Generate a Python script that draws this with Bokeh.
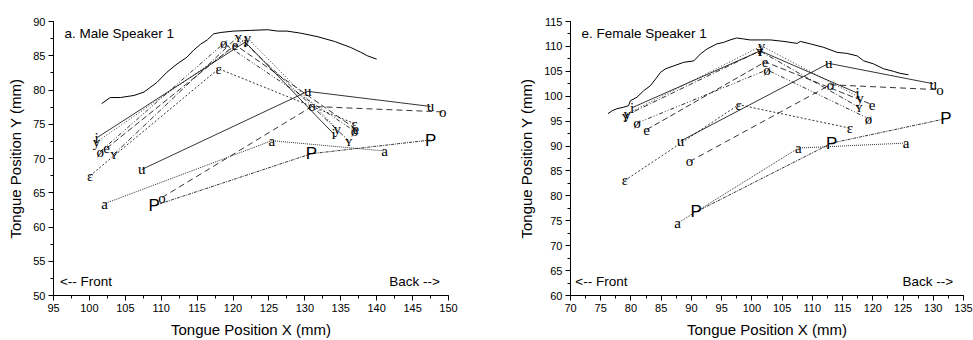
from bokeh.plotting import figure
from bokeh.layouts import row
from bokeh.models import Range1d, SingleIntervalTicker, Label
from bokeh.core.properties import value
from bokeh.embed import file_html
from bokeh.resources import INLINE

# ---------------- data ----------------
vowels = ["i", "y", "ʏ", "e", "ø", "ɛ", "u", "o", "a", "P"]
dashes = ["solid", "1 2", "5 2 1 2", "6 3", "4 2 1 2 1 2", "2 2", "solid", "6 4", "1 1", "3 1 1 1"]

# Male speaker 1: three points per vowel (start, middle, end)
male_x_start = [101.0, 101.0, 103.4, 102.4, 101.5, 100.1, 107.3, 110.1, 102.1, 109.0]
male_y_start = [73.0, 72.4, 70.6, 71.5, 71.0, 67.5, 68.4, 64.3, 63.4, 63.1]
male_x_mid = [121.7, 122.0, 120.7, 120.3, 118.7, 118.0, 130.4, 131.0, 125.4, 130.9]
male_y_mid = [87.0, 87.6, 87.8, 86.6, 86.8, 83.1, 79.8, 77.6, 72.6, 70.7]
male_x_end = [134.0, 134.5, 136.1, 137.1, 136.9, 136.9, 147.5, 149.2, 141.1, 147.5]
male_y_end = [73.6, 74.3, 72.6, 74.3, 74.0, 75.1, 77.6, 76.8, 71.1, 72.7]

male_palate_x = [101.7, 102.9, 104.3, 106.2, 107.6, 109.4, 110.8, 112.2, 113.6, 114.5, 115.5,
                 116.4, 117.3, 118.3, 120.1, 122.4, 124.8, 126.2, 127.5, 129.4, 131.7, 134.1,
                 136.4, 137.8, 138.7, 140.0]
male_palate_y = [78.0, 78.9, 78.9, 79.2, 79.7, 81.1, 82.6, 83.8, 84.8, 85.8, 86.7,
                 87.3, 88.2, 88.4, 88.6, 88.7, 88.8, 88.6, 88.6, 88.3, 87.8, 87.1,
                 86.2, 85.5, 85.0, 84.5]

# Female speaker 1
female_x_start = [80.2, 79.4, 79.1, 82.6, 81.0, 79.0, 88.2, 89.7, 87.7, 90.8]
female_y_start = [97.7, 96.5, 96.1, 93.3, 94.6, 83.1, 91.0, 86.9, 74.5, 76.8]
female_x_mid = [101.4, 101.6, 101.3, 102.2, 102.5, 97.8, 112.7, 113.0, 107.7, 113.2]
female_y_mid = [109.1, 110.1, 109.1, 106.9, 105.3, 98.3, 106.6, 102.3, 89.6, 90.6]
female_x_end = [117.5, 117.9, 117.7, 119.9, 119.3, 116.2, 130.0, 131.1, 125.5, 132.1]
female_y_end = [100.6, 99.7, 97.8, 98.3, 95.5, 93.6, 102.5, 101.3, 90.6, 95.5]

female_palate_x = [76.2, 76.9, 77.7, 78.8, 79.6, 79.9, 81.0, 82.1, 83.2, 84.1, 84.9, 85.7,
                   87.1, 88.7, 90.4, 91.5, 92.6, 94.2, 95.3, 96.4, 97.5, 98.6, 99.7, 101.4,
                   103.1, 105.3, 107.5, 108.0, 109.7, 111.9, 114.1, 115.7, 117.4, 118.5,
                   120.1, 121.8, 123.4, 124.5, 125.9]
female_palate_y = [96.5, 97.1, 97.5, 97.8, 98.1, 99.1, 99.8, 101.1, 102.1, 103.5, 104.8, 105.5,
                   106.1, 106.8, 107.1, 108.5, 109.5, 110.5, 110.8, 111.3, 111.7, 111.5, 111.3, 111.3,
                   111.3, 111.0, 110.6, 111.0, 110.5, 109.8, 108.8, 108.6, 108.1, 107.1,
                   106.5, 105.5, 105.0, 104.6, 104.3]

SANS = "Liberation Sans"
SERIF = "Liberation Serif"


def make_panel(title, xr, yr, xs, ys, xm, ym, xe, ye, px, py, front_xy, back_xy,
               width, border_left, border_right):
    p = figure(width=width, height=340, output_backend="svg", toolbar_location=None,
               x_range=Range1d(*xr), y_range=Range1d(*yr),
               min_border_left=border_left, min_border_right=border_right,
               min_border_top=21, min_border_bottom=44)
    p.outline_line_color = None
    p.xgrid.visible = False
    p.ygrid.visible = False
    p.background_fill_color = "white"
    p.border_fill_color = "white"
    p.xaxis.ticker = SingleIntervalTicker(interval=5, num_minor_ticks=2)
    p.yaxis.ticker = SingleIntervalTicker(interval=5, num_minor_ticks=2)
    p.xaxis.axis_label = "Tongue Position X (mm)"
    p.yaxis.axis_label = "Tongue Position Y (mm)"
    for ax in (p.xaxis, p.yaxis):
        ax.axis_label_text_font = SANS
        ax.axis_label_text_font_size = "15px"
        ax.axis_label_text_font_style = "normal"
        ax.axis_label_text_color = "black"
        ax.major_label_text_font = SANS
        ax.major_label_text_font_size = "11px"
        ax.major_label_text_color = "black"
        ax.axis_line_color = "black"
        ax.major_tick_line_color = "black"
        ax.minor_tick_line_color = "black"
        ax.major_tick_in = 0
        ax.major_tick_out = 5
        ax.minor_tick_in = 0
        ax.minor_tick_out = 3
        ax.major_label_standoff = 3
        ax.axis_label_standoff = 6

    # palate outline
    p.line(px, py, line_color="black", line_width=1)

    # vowel trajectories
    for k, v in enumerate(vowels):
        p.line([xs[k], xm[k], xe[k]], [ys[k], ym[k], ye[k]], line_color="black",
               line_width=0.8, line_dash=dashes[k])

    lab_x, lab_y, lab_t = [], [], []
    pl_x, pl_y = [], []
    for k, v in enumerate(vowels):
        for (xx, yy) in ((xs[k], ys[k]), (xm[k], ym[k]), (xe[k], ye[k])):
            if v == "P":
                pl_x.append(xx)
                pl_y.append(yy)
            else:
                lab_x.append(xx)
                lab_y.append(yy)
                lab_t.append(v)
    p.text(lab_x, lab_y, text=lab_t, text_font=value(SERIF), text_font_size="15px",
           text_align="center", text_baseline="middle", text_color="black")
    p.text(pl_x, pl_y, text=["P"] * len(pl_x), text_font=value(SANS), text_font_size="17px",
           text_align="center", text_baseline="middle", text_color="black")

    p.add_layout(Label(x=xr[0], y=yr[1], x_offset=11, y_offset=-12, text=title,
                       text_font=SANS, text_font_size="13.5px", text_baseline="middle",
                       text_color="black"))
    p.add_layout(Label(x=front_xy[0], y=front_xy[1], text="<-- Front", text_font=SANS,
                       text_font_size="13.5px", text_baseline="middle", text_align="left",
                       text_color="black"))
    p.add_layout(Label(x=back_xy[0], y=back_xy[1], text="Back -->", text_font=SANS,
                       text_font_size="13.5px", text_baseline="middle", text_align="right",
                       text_color="black"))
    return p


p1 = make_panel("a. Male Speaker 1", (95, 150), (50, 90),
                male_x_start, male_y_start, male_x_mid, male_y_mid, male_x_end, male_y_end,
                male_palate_x, male_palate_y, (95.9, 52.0), (148.8, 52.0),
                width=515, border_left=53, border_right=67)
p2 = make_panel("e. Female Speaker 1", (70, 135), (60, 115),
                female_x_start, female_y_start, female_x_mid, female_y_mid, female_x_end, female_y_end,
                female_palate_x, female_palate_y, (70.8, 62.8), (133.3, 62.8),
                width=458, border_left=55, border_right=10)

layout = row(p1, p2)
open("out.html", "w").write(file_html(layout, INLINE))
